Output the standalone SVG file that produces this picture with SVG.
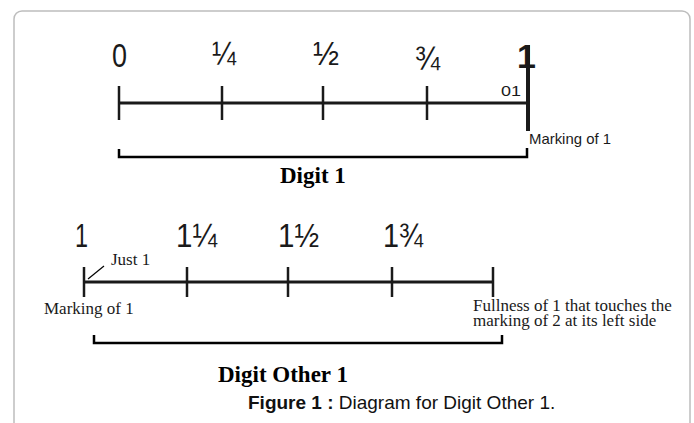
<svg xmlns="http://www.w3.org/2000/svg" width="694" height="423" viewBox="0 0 694 423">
  <style>
    .frame { fill: #ffffff; stroke: #bdbdbd; stroke-width: 1.5; }
    .axis { stroke: #1a1a1a; stroke-width: 3; fill: none; }
    .tick { stroke: #1a1a1a; stroke-width: 2.5; fill: none; }
    .brace { stroke: #000; stroke-width: 2.5; fill: none; }
    .leader { stroke: #000; stroke-width: 1.2; fill: none; }
    .num { font-family: "Liberation Sans", Arial, sans-serif; font-size: 34px; fill: #1a1a1a; }
    .small { font-family: "Liberation Sans", Arial, sans-serif; font-size: 15px; fill: #1a1a1a; }
    .note { font-family: "Liberation Serif", "Times New Roman", serif; font-size: 17px; fill: #1a1a1a; }
    .title { font-family: "Liberation Serif", "Times New Roman", serif; font-size: 23px; font-weight: bold; fill: #000; }
    .caption { font-family: "Liberation Sans", Arial, sans-serif; font-size: 19px; fill: #111; }
  </style>

  <rect class="frame" x="14" y="11" width="676" height="440" rx="8"/>

  <!-- upper number line: 0 to 1 -->
  <g id="line-zero-to-one">
    <line class="axis" x1="119" y1="103" x2="528" y2="103"/>
    <line class="tick" x1="119" y1="86" x2="119" y2="120"/>
    <line class="tick" x1="222" y1="86" x2="222" y2="120"/>
    <line class="tick" x1="323" y1="86" x2="323" y2="120"/>
    <line class="tick" x1="427" y1="86" x2="427" y2="120"/>
    <line x1="528" y1="45" x2="528" y2="131" stroke="#1a1a1a" stroke-width="4"/>
  </g>

  <g id="labels-top">
    <text class="num" x="112" y="67" textLength="15" lengthAdjust="spacingAndGlyphs">0</text>
    <text class="num" x="212" y="65" font-size="40" textLength="24" lengthAdjust="spacingAndGlyphs">¼</text>
    <text class="num" x="313" y="65" font-size="40" textLength="26" lengthAdjust="spacingAndGlyphs">½</text>
    <text class="num" x="415" y="70" font-size="40" textLength="25" lengthAdjust="spacingAndGlyphs">¾</text>
    <text class="num" x="536" y="68" text-anchor="end" font-size="30" font-weight="bold">1</text>
    <text class="small" x="501" y="96" font-size="17" textLength="20" lengthAdjust="spacingAndGlyphs">01</text>
    <text class="small" x="529" y="144" font-size="14" textLength="82" lengthAdjust="spacingAndGlyphs">Marking of 1</text>
  </g>

  <g id="brace-digit-1">
    <path class="brace" d="M119,149 V157 H527 V148"/>
    <text class="title" x="280" y="183">Digit 1</text>
  </g>

  <!-- lower number line: 1 to 2 -->
  <g id="line-one-to-two">
    <line class="axis" x1="84" y1="282" x2="493" y2="282"/>
    <line class="tick" x1="84" y1="267" x2="84" y2="297"/>
    <line class="tick" x1="187" y1="267" x2="187" y2="297"/>
    <line class="tick" x1="288" y1="267" x2="288" y2="297"/>
    <line class="tick" x1="392" y1="267" x2="392" y2="297"/>
    <line class="tick" x1="493" y1="267" x2="493" y2="297"/>
  </g>

  <g id="labels-bottom">
    <text class="num" x="75" y="247" font-size="33" textLength="13" lengthAdjust="spacingAndGlyphs">1</text>
    <text class="num" x="176" y="247" font-size="34" textLength="41" lengthAdjust="spacingAndGlyphs">1¼</text>
    <text class="num" x="278" y="247" font-size="34" textLength="41" lengthAdjust="spacingAndGlyphs">1½</text>
    <text class="num" x="383" y="247" font-size="34" textLength="40" lengthAdjust="spacingAndGlyphs">1¾</text>
  </g>

  <g id="connectors">
    <line class="leader" x1="88" y1="279" x2="104" y2="266"/>
  </g>

  <g id="note-just-1">
    <text class="note" x="111" y="265">Just 1</text>
  </g>
  <g id="note-marking-1">
    <text class="note" x="44" y="314">Marking of 1</text>
  </g>
  <g id="note-fullness">
    <text class="note" x="473" y="310.5" font-size="16.5">Fullness of 1 that touches the</text>
    <text class="note" x="473" y="326" font-size="16.5">marking of 2 at its left side</text>
  </g>

  <g id="brace-digit-other-1">
    <path class="brace" d="M94,335 V343 H502 V335"/>
    <text class="title" x="218" y="382">Digit Other 1</text>
  </g>

  <text class="caption" x="248" y="409"><tspan font-weight="bold">Figure 1 :</tspan> Diagram for Digit Other 1.</text>
</svg>
